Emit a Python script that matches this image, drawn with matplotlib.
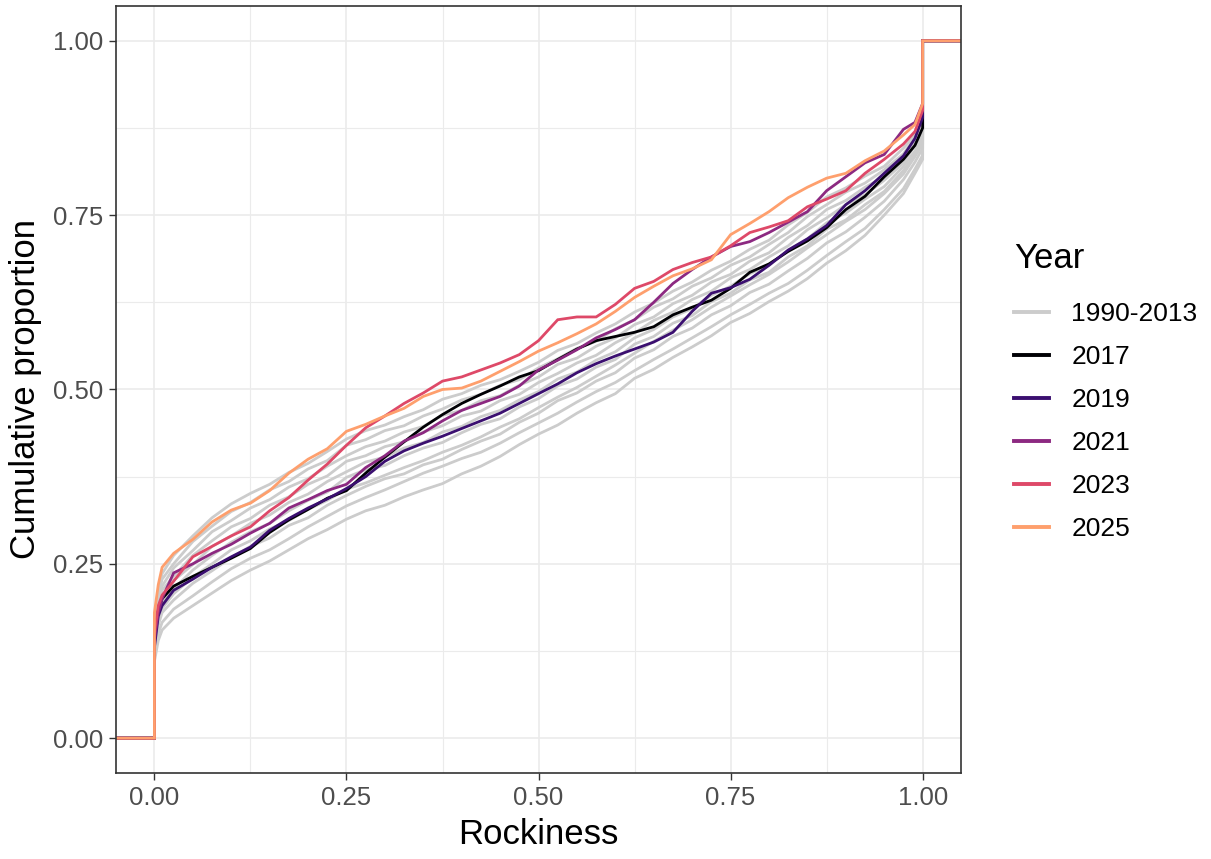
import numpy as np
import matplotlib
matplotlib.use('Agg')
import matplotlib.pyplot as plt
from matplotlib.lines import Line2D

plt.rcParams['font.family'] = ['Liberation Sans', 'DejaVu Sans']

# rockiness values where each cumulative curve was sampled
rockiness = [0.0, 0.005, 0.01, 0.025, 0.05, 0.075, 0.10, 0.125, 0.15, 0.175,
             0.20, 0.225, 0.25, 0.275, 0.30, 0.325, 0.35, 0.375, 0.40, 0.425,
             0.45, 0.475, 0.50, 0.525, 0.55, 0.575, 0.60, 0.625, 0.65, 0.675,
             0.70, 0.725, 0.75, 0.775, 0.80, 0.825, 0.85, 0.875, 0.90, 0.925,
             0.95, 0.975, 0.99, 1.0]

# older years, all drawn in grey
grey_years = [
    [0.11, 0.14, 0.155, 0.172, 0.19, 0.208, 0.226, 0.241, 0.254, 0.27, 0.286, 0.299, 0.314, 0.326, 0.334,
     0.346, 0.356, 0.365, 0.379, 0.39, 0.404, 0.421, 0.436, 0.449, 0.466, 0.481, 0.494, 0.516, 0.529, 0.546,
     0.561, 0.577, 0.596, 0.609, 0.626, 0.641, 0.659, 0.681, 0.699, 0.721, 0.75, 0.781, 0.81, 0.83],
    [0.12, 0.15, 0.166, 0.185, 0.204, 0.224, 0.243, 0.258, 0.27, 0.286, 0.303, 0.318, 0.333, 0.345, 0.356,
     0.368, 0.38, 0.39, 0.401, 0.41, 0.423, 0.438, 0.452, 0.466, 0.482, 0.497, 0.51, 0.527, 0.543, 0.558,
     0.574, 0.59, 0.607, 0.622, 0.638, 0.652, 0.671, 0.692, 0.712, 0.731, 0.758, 0.788, 0.816, 0.836],
    [0.125, 0.162, 0.18, 0.198, 0.222, 0.24, 0.259, 0.275, 0.287, 0.305, 0.316, 0.334, 0.348, 0.361, 0.372,
     0.379, 0.392, 0.4, 0.414, 0.426, 0.436, 0.453, 0.466, 0.484, 0.495, 0.512, 0.524, 0.545, 0.557, 0.576,
     0.588, 0.607, 0.62, 0.639, 0.651, 0.67, 0.688, 0.71, 0.726, 0.747, 0.77, 0.801, 0.826, 0.846],
    [0.135, 0.17, 0.186, 0.207, 0.231, 0.25, 0.27, 0.283, 0.3, 0.312, 0.328, 0.341, 0.357, 0.366, 0.377,
     0.388, 0.398, 0.41, 0.42, 0.432, 0.446, 0.458, 0.474, 0.489, 0.503, 0.519, 0.535, 0.552, 0.569, 0.585,
     0.6, 0.618, 0.634, 0.65, 0.665, 0.683, 0.703, 0.722, 0.741, 0.758, 0.781, 0.809, 0.834, 0.852],
    [0.142, 0.176, 0.196, 0.214, 0.241, 0.262, 0.281, 0.296, 0.308, 0.326, 0.341, 0.353, 0.374, 0.385, 0.391,
     0.405, 0.416, 0.424, 0.438, 0.45, 0.458, 0.475, 0.487, 0.505, 0.515, 0.532, 0.543, 0.565, 0.576, 0.595,
     0.606, 0.626, 0.638, 0.657, 0.668, 0.69, 0.706, 0.73, 0.743, 0.765, 0.784, 0.814, 0.837, 0.856],
    [0.148, 0.183, 0.201, 0.226, 0.249, 0.275, 0.29, 0.308, 0.32, 0.338, 0.35, 0.368, 0.382, 0.396, 0.403,
     0.416, 0.424, 0.439, 0.447, 0.461, 0.47, 0.485, 0.497, 0.515, 0.525, 0.542, 0.554, 0.574, 0.586, 0.604,
     0.616, 0.635, 0.648, 0.666, 0.678, 0.699, 0.716, 0.739, 0.753, 0.773, 0.791, 0.82, 0.842, 0.861],
    [0.153, 0.19, 0.212, 0.232, 0.262, 0.283, 0.303, 0.315, 0.334, 0.346, 0.364, 0.376, 0.397, 0.405, 0.418,
     0.425, 0.439, 0.448, 0.462, 0.469, 0.484, 0.493, 0.51, 0.523, 0.538, 0.549, 0.567, 0.581, 0.599, 0.611,
     0.629, 0.641, 0.66, 0.672, 0.69, 0.706, 0.729, 0.746, 0.765, 0.779, 0.8, 0.825, 0.85, 0.866],
    [0.158, 0.197, 0.218, 0.244, 0.269, 0.296, 0.312, 0.33, 0.342, 0.36, 0.372, 0.39, 0.405, 0.418, 0.426,
     0.439, 0.447, 0.463, 0.47, 0.484, 0.491, 0.506, 0.518, 0.536, 0.545, 0.562, 0.574, 0.593, 0.604, 0.623,
     0.635, 0.654, 0.665, 0.684, 0.696, 0.718, 0.735, 0.758, 0.771, 0.79, 0.805, 0.833, 0.853, 0.871],
    [0.165, 0.204, 0.228, 0.25, 0.282, 0.304, 0.325, 0.338, 0.356, 0.368, 0.386, 0.398, 0.42, 0.428, 0.441,
     0.448, 0.462, 0.472, 0.485, 0.493, 0.506, 0.514, 0.531, 0.544, 0.559, 0.569, 0.587, 0.6, 0.618, 0.63,
     0.648, 0.66, 0.678, 0.69, 0.708, 0.725, 0.748, 0.765, 0.783, 0.796, 0.815, 0.838, 0.861, 0.876],
    [0.17, 0.21, 0.236, 0.262, 0.29, 0.316, 0.336, 0.351, 0.364, 0.381, 0.394, 0.411, 0.429, 0.441, 0.449,
     0.461, 0.471, 0.486, 0.494, 0.506, 0.514, 0.526, 0.539, 0.556, 0.566, 0.581, 0.594, 0.611, 0.624, 0.641,
     0.654, 0.671, 0.684, 0.701, 0.714, 0.736, 0.754, 0.776, 0.789, 0.806, 0.82, 0.846, 0.865, 0.88],
]

y2017 = [0.15, 0.18, 0.2, 0.218, 0.232, 0.245, 0.258, 0.272, 0.295, 0.313, 0.328, 0.344, 0.355, 0.38, 0.403,
         0.425, 0.446, 0.464, 0.48, 0.493, 0.505, 0.518, 0.527, 0.543, 0.558, 0.57, 0.576, 0.582, 0.59, 0.607,
         0.618, 0.628, 0.645, 0.668, 0.68, 0.698, 0.713, 0.732, 0.758, 0.777, 0.805, 0.83, 0.85, 0.875]
y2019 = [0.13, 0.175, 0.19, 0.212, 0.228, 0.245, 0.26, 0.274, 0.298, 0.315, 0.33, 0.343, 0.358, 0.375, 0.397,
         0.412, 0.423, 0.433, 0.444, 0.455, 0.466, 0.48, 0.494, 0.508, 0.524, 0.537, 0.548, 0.558, 0.568, 0.582,
         0.612, 0.638, 0.646, 0.658, 0.678, 0.70, 0.716, 0.735, 0.765, 0.785, 0.81, 0.835, 0.86, 0.89]
y2021 = [0.14, 0.18, 0.2, 0.237, 0.25, 0.265, 0.278, 0.294, 0.308, 0.33, 0.342, 0.355, 0.364, 0.388, 0.405,
         0.426, 0.438, 0.455, 0.47, 0.48, 0.49, 0.505, 0.528, 0.542, 0.557, 0.574, 0.586, 0.60, 0.625, 0.652,
         0.672, 0.69, 0.705, 0.712, 0.725, 0.74, 0.755, 0.785, 0.805, 0.825, 0.837, 0.873, 0.883, 0.91]
y2023 = [0.15, 0.19, 0.205, 0.225, 0.26, 0.275, 0.29, 0.303, 0.326, 0.345, 0.37, 0.393, 0.42, 0.445, 0.462,
         0.48, 0.495, 0.512, 0.518, 0.528, 0.538, 0.55, 0.57, 0.60, 0.604, 0.604, 0.622, 0.645, 0.655, 0.672,
         0.682, 0.69, 0.706, 0.725, 0.733, 0.742, 0.762, 0.773, 0.785, 0.81, 0.83, 0.852, 0.87, 0.90]
y2025 = [0.18, 0.22, 0.245, 0.265, 0.285, 0.31, 0.327, 0.337, 0.355, 0.38, 0.40, 0.415, 0.44, 0.45, 0.462,
         0.473, 0.49, 0.50, 0.502, 0.512, 0.526, 0.54, 0.555, 0.567, 0.58, 0.594, 0.612, 0.632, 0.648, 0.663,
         0.673, 0.686, 0.722, 0.738, 0.755, 0.775, 0.79, 0.803, 0.81, 0.828, 0.842, 0.865, 0.88, 0.91]

year_labels = ['2017', '2019', '2021', '2023', '2025']
year_values = [y2017, y2019, y2021, y2023, y2025]
year_colors = ['#000004', '#3B0F70', '#8C2981', '#DE4968', '#FE9F6D']
grey_label = '1990-2013'
grey_color = '#CCCCCC'


def ecdf_path(x, y):
    # pad each curve with 0 on the left and 1 on the right, like stat_ecdf
    xs = np.concatenate([[-1.0, 0.0], x, [1.0, 2.0]])
    ys = np.concatenate([[0.0, 0.0], y, [1.0, 1.0]])
    return xs, ys


def main():
    fig = plt.figure(figsize=(12.11, 8.59), dpi=100)
    ax = fig.add_axes([0.0958, 0.1001, 0.6978, 0.893])

    x = np.array(rockiness)
    lw = 2.0
    for g in grey_years:
        xs, ys = ecdf_path(x, np.array(g))
        ax.plot(xs, ys, color=grey_color, lw=lw, solid_joinstyle='miter')
    for vals, col in zip(year_values, year_colors):
        xs, ys = ecdf_path(x, np.array(vals))
        ax.plot(xs, ys, color=col, lw=lw, solid_joinstyle='miter')

    ax.set_xlim(-0.05, 1.05)
    ax.set_ylim(-0.05, 1.05)
    ticks = [0, 0.25, 0.5, 0.75, 1.0]
    ax.set_xticks(ticks)
    ax.set_yticks(ticks)
    ax.set_xticklabels(['%.2f' % t for t in ticks])
    ax.set_yticklabels(['%.2f' % t for t in ticks])
    ax.set_xticks([0.125, 0.375, 0.625, 0.875], minor=True)
    ax.set_yticks([0.125, 0.375, 0.625, 0.875], minor=True)
    ax.tick_params(which='major', labelsize=18.5, labelcolor='#4D4D4D',
                   color='#333333', length=5, width=1.0, pad=4)
    ax.tick_params(which='minor', length=0)
    ax.grid(which='major', color='#EBEBEB', lw=1.2)
    ax.grid(which='minor', color='#EBEBEB', lw=0.8)
    ax.set_axisbelow(True)
    for sp in ax.spines.values():
        sp.set_color('#333333')
        sp.set_linewidth(1.2)

    ax.set_xlabel('Rockiness', fontsize=25, labelpad=6)
    ax.set_ylabel('Cumulative proportion', fontsize=25, labelpad=8)

    handles = [Line2D([], [], color=grey_color, lw=2.8)]
    handles += [Line2D([], [], color=c, lw=2.8) for c in year_colors]
    leg = fig.legend(handles, [grey_label] + year_labels, title='Year',
                     loc='upper left', bbox_to_anchor=(0.829, 0.73),
                     frameon=False, fontsize=19, title_fontsize=25,
                     handlelength=1.3, handletextpad=0.85, labelspacing=0.72,
                     borderaxespad=0)
    leg._legend_box.align = 'left'
    leg._legend_box.sep = 19

    fig.savefig('out.png', dpi=100)


if __name__ == '__main__':
    main()
